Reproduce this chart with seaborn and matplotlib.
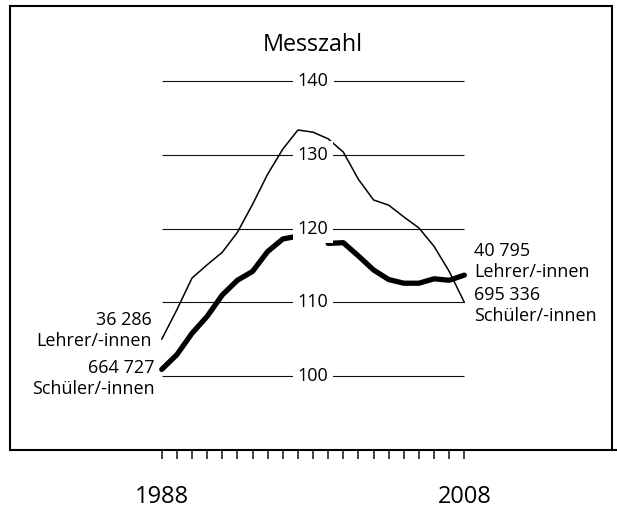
import matplotlib
matplotlib.use("Agg")
import matplotlib.pyplot as plt
from matplotlib.lines import Line2D
import seaborn as sns
import pandas as pd
import numpy as np

years = list(range(1988, 2009))
lehrer_thin = [105.0, 109.0, 113.3, 115.1, 116.8, 119.5, 123.3, 127.4, 130.8, 133.4,
               133.1, 132.2, 130.4, 126.7, 123.9, 123.2, 121.6, 120.1, 117.6, 114.2, 110.0]
# 1998 is not visible in the reference (gap in the thick line)
schueler_thick = [100.9, 102.9, 105.8, 108.1, 111.0, 113.0, 114.2, 116.9, 118.6, 119.0,
                  np.nan, 118.0, 118.1, 116.3, 114.4, 113.1, 112.6, 112.6, 113.2, 113.0, 113.7]
grid_values = [100, 110, 120, 130, 140]
year_labels = {1988: "1988", 2008: "2008"}
title = "Messzahl"
left_labels = ["36 286\nLehrer/-innen", "664 727\nSchüler/-innen"]
right_labels = ["40 795\nLehrer/-innen", "695 336\nSchüler/-innen"]

sns.set_style("white")
plt.rcParams["font.family"] = ["Open Sans", "DejaVu Sans"]
plt.rcParams["text.color"] = "black"
plt.rcParams["xtick.color"] = "black"
plt.rcParams["xtick.labelcolor"] = "black"

W, H = 617, 511
fig = plt.figure(figsize=(W / 100, H / 100), dpi=100)
ax = fig.add_axes([10 / W, 1 - 450 / H, 602 / W, 444 / H])

df = pd.DataFrame({"Jahr": years, "thin": lehrer_thin, "thick": schueler_thick})
df["seg"] = df["thick"].isna().cumsum()
thick_df = df.dropna(subset=["thick"])

sns.lineplot(data=df, x="Jahr", y="thin", ax=ax, color="black", linewidth=1.1, zorder=2)
sns.lineplot(data=thick_df, x="Jahr", y="thick", units="seg", estimator=None, ax=ax,
             color="black", linewidth=3.8, zorder=2)

ax.set_xlim(1977.97, 2017.76)
ax.set_ylim(89.96, 150.23)

ax.hlines(grid_values, years[0], years[-1], color="#111111", linewidth=0.8, zorder=1)
for v in grid_values:
    ax.text(1998, v, str(v), ha="center", va="center", fontsize=13, zorder=4,
            color="black", bbox=dict(facecolor="white", edgecolor="none", pad=3.6))

ax.text(1998, 145.0, title, ha="center", va="center", fontsize=16.8, color="black")

# left labels
ax.annotate(left_labels[0], xy=(years[0], 106.2), xytext=(-7, 0), textcoords="offset points",
            ha="right", va="center", fontsize=13, linespacing=1.2, color="black")
ax.annotate(left_labels[1], xy=(years[0], 99.65), xytext=(-5, 0), textcoords="offset points",
            ha="right", va="center", fontsize=13, linespacing=1.2, color="black")
# right labels
ax.annotate(right_labels[0], xy=(years[-1], 115.6), xytext=(7, 0), textcoords="offset points",
            ha="left", va="center", fontsize=13, linespacing=1.2, color="black")
ax.annotate(right_labels[1], xy=(years[-1], 109.55), xytext=(7, 0), textcoords="offset points",
            ha="left", va="center", fontsize=13, linespacing=1.2, color="black")

ax.set_xticks(years)
ax.set_xticklabels([year_labels.get(y, "") for y in years])
ax.set_yticks([])
ax.tick_params(axis="x", direction="out", length=6.5, width=1.1, color="#111111",
               pad=19, labelsize=17, labelcolor="black", bottom=True)
ax.set_xlabel("")
ax.set_ylabel("")
for s in ["left", "top", "right"]:
    ax.spines[s].set_visible(True)
    ax.spines[s].set_color("black")
    ax.spines[s].set_linewidth(1.5)
ax.spines["bottom"].set_visible(False)

fig.add_artist(Line2D([10 / W, 1.0], [1 - 450 / H, 1 - 450 / H], color="black",
                      linewidth=1.5, transform=fig.transFigure))

fig.savefig("out.png", dpi=100)
